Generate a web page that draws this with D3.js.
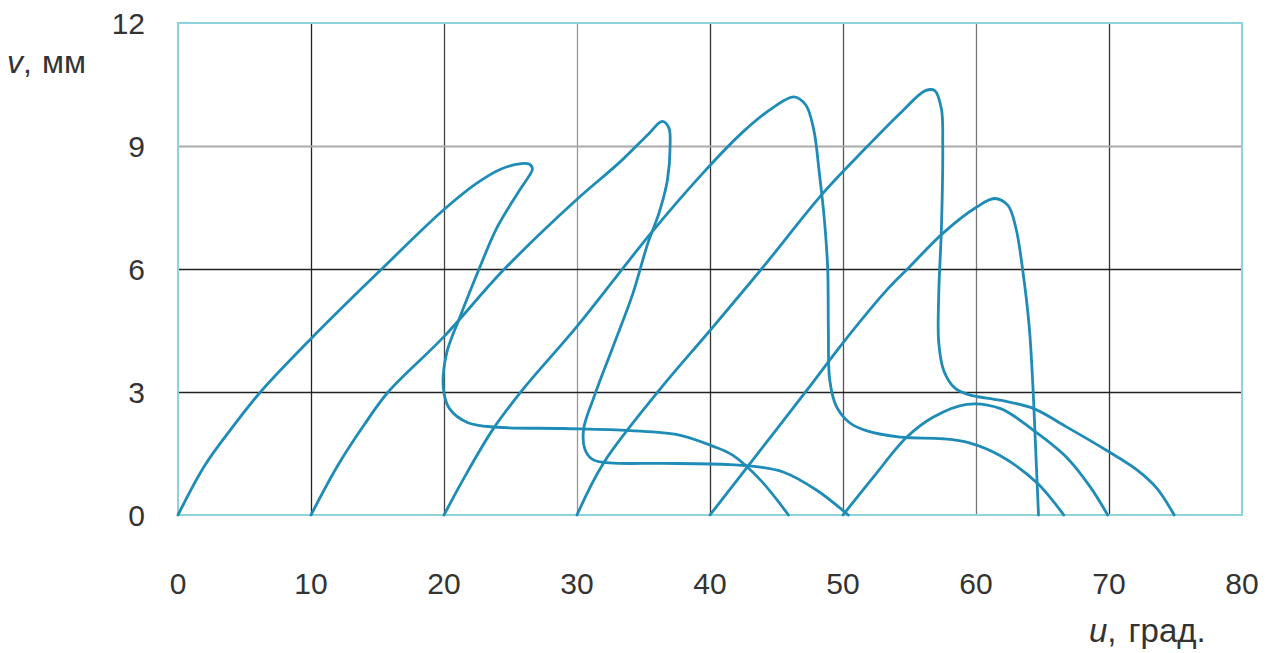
<!DOCTYPE html>
<html>
<head>
<meta charset="utf-8">
<script src="https://cdn.jsdelivr.net/npm/d3@7"></script>
<style>
  html, body { margin: 0; padding: 0; background: #fff; }
  svg { display: block; font-family: "Liberation Sans", Arial, sans-serif; }
</style>
</head>
<body>
<svg id="chart" width="1278" height="653"></svg>
<script>
// ---- data (u in degrees, v in mm) ----
const xTicks = [0, 10, 20, 30, 40, 50, 60, 70, 80];
const yTicks = [0, 3, 6, 9, 12];

const loop0 = [[0,0],[2,1.2],[4,2.1],[6.2,3.0],[10,4.3],[15,5.9],[20,7.45],[22.5,8.1],[24.3,8.44],[25.8,8.57],[26.4,8.56],[26.65,8.44],[26.4,8.27],[25.7,7.93],[24.0,7.02],[22.7,6.05],[21.2,4.83],[20.2,3.95],[19.95,3.1],[20.4,2.6],[21.8,2.25],[24.0,2.14],[29,2.11],[34,2.06],[37.7,1.95],[40.2,1.68],[41.7,1.46],[43.8,0.85],[45.9,0]];
const loop1 = [[10,0],[12,1.2],[14,2.2],[15.8,3.0],[20,4.35],[24.4,5.95],[30,7.7],[33.2,8.6],[35.4,9.3],[36.4,9.6],[36.9,9.45],[37.0,9.0],[36.8,8.17],[36.2,7.4],[35.3,6.6],[34.2,5.4],[32.7,4.1],[31.3,2.9],[30.5,2.1],[30.6,1.6],[31.2,1.35],[32.5,1.27],[36.5,1.26],[41.5,1.23],[43.5,1.18],[45.5,1.05],[48.0,0.61],[50.4,0]];
const loop2 = [[20,0],[21.5,0.9],[23.7,2.1],[25.9,3.05],[30,4.6],[35.5,6.85],[39.5,8.35],[42.5,9.35],[44.8,9.95],[46.3,10.2],[47.2,10.0],[47.8,9.4],[48.2,8.4],[48.6,7.2],[48.85,6.0],[48.9,4.5],[49.0,3.3],[49.5,2.65],[50.5,2.25],[51.8,2.05],[54.3,1.9],[57.5,1.86],[59.5,1.76],[61.8,1.45],[64.6,0.78],[66.6,0]];
const loop3 = [[30,0],[32,1.27],[36.2,3.05],[40,4.5],[44,6.05],[48.5,7.85],[51.8,8.98],[54.3,9.8],[56.2,10.35],[56.9,10.35],[57.4,9.9],[57.5,9.0],[57.4,7.0],[57.2,5.4],[57.2,4.2],[57.6,3.5],[58.4,3.1],[59.5,2.93],[61.8,2.8],[64.3,2.6],[66.8,2.15],[69.8,1.58],[72.1,1.1],[73.6,0.65],[74.9,0]];
const loop4 = [[40,0],[42.8,1.17],[47.3,3.05],[50,4.2],[53.3,5.49],[55,6.05],[57.5,6.87],[60,7.5],[61.4,7.72],[62.4,7.55],[63.0,7.0],[63.5,6.0],[64.0,4.6],[64.3,3.0],[64.5,1.5],[64.7,0]];
const loop5 = [[50,0],[52.3,0.93],[54.8,1.9],[56.8,2.39],[59.3,2.7],[61.8,2.6],[64.3,2.07],[66.8,1.41],[68.6,0.68],[69.9,0]];
const loops = [loop0, loop1, loop2, loop3, loop4, loop5];

// ---- layout ----
const svg = d3.select("#chart");
const L = 178, R = 1242, T = 23, B = 515;
const x = d3.scaleLinear().domain([0, 80]).range([L, R]);
const y = d3.scaleLinear().domain([0, 12]).range([B, T]);

const vColors = {10:"#222", 20:"#444", 30:"#999", 40:"#333", 50:"#555", 60:"#777", 70:"#333"};
const hColors = {3:"#222", 6:"#222", 9:"#aaa"};

// vertical grid via axis
const gx = svg.append("g").attr("transform", `translate(0,${B})`)
  .call(d3.axisBottom(x).tickValues(xTicks.filter(d => d > 0 && d < 80)).tickSize(-(B - T)).tickFormat(""));
gx.select(".domain").remove();
gx.selectAll(".tick line").attr("stroke", d => vColors[d]).attr("stroke-width", 1.3);

const gy = svg.append("g").attr("transform", `translate(${L},0)`)
  .call(d3.axisLeft(y).tickValues(yTicks.filter(d => d > 0 && d < 12)).tickSize(-(R - L)).tickFormat(""));
gy.select(".domain").remove();
gy.selectAll(".tick line").attr("stroke", d => hColors[d]).attr("stroke-width", d => d === 9 ? 2.2 : 1.3);

// frame
svg.append("rect").attr("x", L).attr("y", T).attr("width", R - L).attr("height", B - T)
  .attr("fill", "none").attr("stroke", "#8fd3dc").attr("stroke-width", 2);

// tick labels
svg.append("g").selectAll("text").data(xTicks).join("text")
  .attr("x", d => x(d)).attr("y", 594).attr("text-anchor", "middle")
  .attr("font-size", 30).attr("fill", "#333").text(d => d);
svg.append("g").selectAll("text").data(yTicks).join("text")
  .attr("x", 145).attr("y", d => y(d) + 11).attr("text-anchor", "end")
  .attr("font-size", 30).attr("fill", "#333").text(d => d);

// axis titles
const yt = svg.append("text").attr("x", 7).attr("y", 73).attr("font-size", 32).attr("fill", "#333");
yt.append("tspan").attr("font-style", "italic").text("v");
yt.append("tspan").text(",");
yt.append("tspan").attr("dx", 10).text("мм");
const xt = svg.append("text").attr("x", 1089).attr("y", 642).attr("font-size", 33).attr("fill", "#333");
xt.append("tspan").attr("font-style", "italic").text("u");
xt.append("tspan").text(",");
xt.append("tspan").attr("dx", 12).text("град.");

// curves
const line = d3.line().x(d => x(d[0])).y(d => y(d[1])).curve(d3.curveCatmullRom.alpha(0.5));
svg.append("g").selectAll("path").data(loops).join("path")
  .attr("d", line).attr("fill", "none").attr("stroke", "#1e8cb6")
  .attr("stroke-width", 2.8).attr("stroke-linejoin", "round").attr("stroke-linecap", "round");
</script>
</body>
</html>
